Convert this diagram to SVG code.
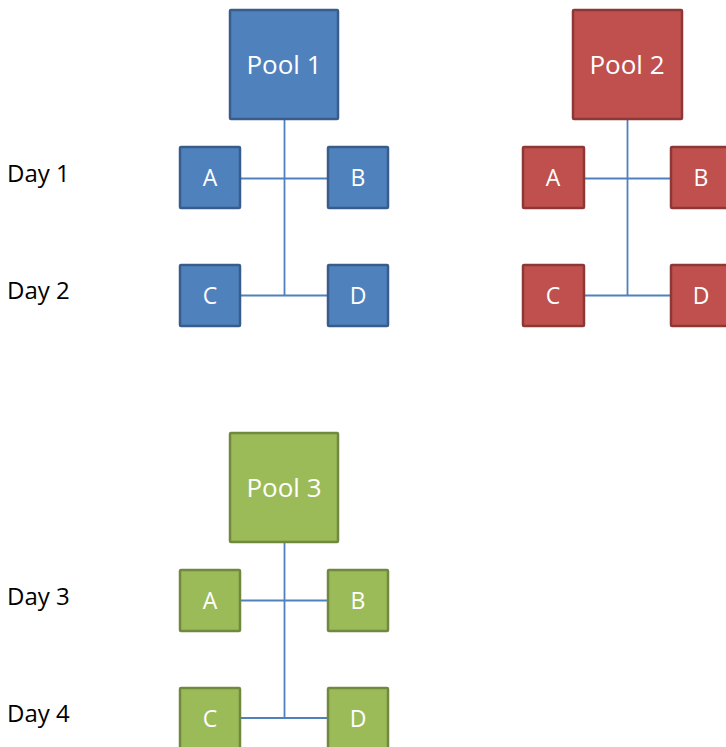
<svg xmlns="http://www.w3.org/2000/svg" width="726" height="747" viewBox="0 0 726 747">
<style>
  .blue { fill: #4F81BD; stroke: #385D8A; stroke-width: 2.5; }
  .red { fill: #C0504D; stroke: #8C3836; stroke-width: 2.5; }
  .green { fill: #9BBB59; stroke: #71893F; stroke-width: 2.5; }
  .lbl { fill: #FFFFFF; font-family: "Open Sans", "Liberation Sans", sans-serif; text-anchor: middle; }
  .big { font-size: 26px; }
  .small { font-size: 23px; }
  .day { fill: #000000; font-family: "Open Sans", "Liberation Sans", sans-serif; font-size: 24px; }
  .conn { stroke: #4F81BD; stroke-width: 1.8; fill: none; }
</style>
<rect width="726" height="747" fill="#FFFFFF"/>
<g id="connectors">
  <path class="conn" d="M284.5 119 V295.5 M240 178.5 H328 M240 295.5 H328"/>
  <path class="conn" d="M627.5 119 V295.5 M584 178.5 H671 M584 295.5 H671"/>
  <path class="conn" d="M284.5 542 V718 M240 600.5 H328 M240 718 H328"/>
</g>
<g id="day-labels">
  <text class="day" x="7" y="182">Day 1</text>
  <text class="day" x="7" y="299">Day 2</text>
  <text class="day" x="7" y="605">Day 3</text>
  <text class="day" x="7" y="722">Day 4</text>
</g>
<g id="pool1">
  <rect class="blue" x="230" y="10" width="108" height="109" rx="1"/>
  <text class="lbl big" x="284" y="74">Pool 1</text>
</g>
<g id="pool1-a"><rect class="blue" x="180" y="147" width="60" height="61" rx="1"/><text class="lbl small" x="210" y="186">A</text></g>
<g id="pool1-b"><rect class="blue" x="328" y="147" width="60" height="61" rx="1"/><text class="lbl small" x="358" y="186">B</text></g>
<g id="pool1-c"><rect class="blue" x="180" y="265" width="60" height="61" rx="1"/><text class="lbl small" x="210" y="304">C</text></g>
<g id="pool1-d"><rect class="blue" x="328" y="265" width="60" height="61" rx="1"/><text class="lbl small" x="358" y="304">D</text></g>

<g id="pool2">
  <rect class="red" x="573" y="10" width="109" height="109" rx="1"/>
  <text class="lbl big" x="627" y="74">Pool 2</text>
</g>
<g id="pool2-a"><rect class="red" x="523" y="147" width="61" height="61" rx="1"/><text class="lbl small" x="553" y="186">A</text></g>
<g id="pool2-b"><rect class="red" x="671" y="147" width="61" height="61" rx="1"/><text class="lbl small" x="701" y="186">B</text></g>
<g id="pool2-c"><rect class="red" x="523" y="265" width="61" height="61" rx="1"/><text class="lbl small" x="553" y="304">C</text></g>
<g id="pool2-d"><rect class="red" x="671" y="265" width="61" height="61" rx="1"/><text class="lbl small" x="701" y="304">D</text></g>

<g id="pool3">
  <rect class="green" x="230" y="433" width="108" height="109" rx="1"/>
  <text class="lbl big" x="284" y="497">Pool 3</text>
</g>
<g id="pool3-a"><rect class="green" x="180" y="570" width="60" height="61" rx="1"/><text class="lbl small" x="210" y="609">A</text></g>
<g id="pool3-b"><rect class="green" x="328" y="570" width="60" height="61" rx="1"/><text class="lbl small" x="358" y="609">B</text></g>
<g id="pool3-c"><rect class="green" x="180" y="688" width="60" height="61" rx="1"/><text class="lbl small" x="210" y="727">C</text></g>
<g id="pool3-d"><rect class="green" x="328" y="688" width="60" height="61" rx="1"/><text class="lbl small" x="358" y="727">D</text></g>
</svg>
